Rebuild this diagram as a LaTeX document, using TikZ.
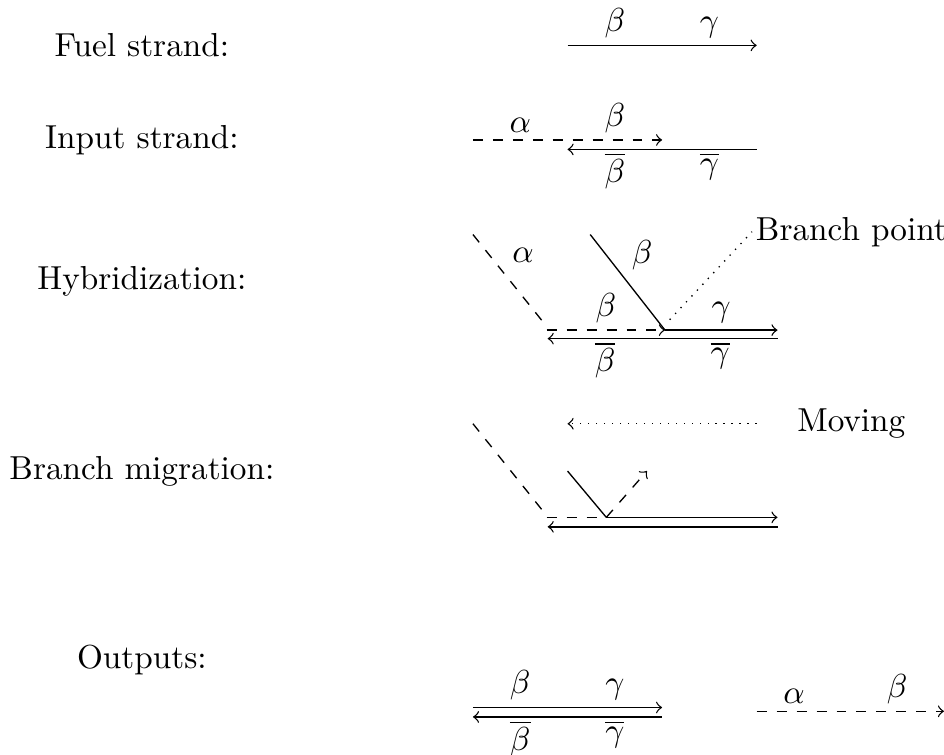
\documentclass[tikz,border=0pt]{standalone}
\usetikzlibrary{positioning}
\tikzset{
  rowname/.style={align=center},
  dom/.style={inner sep=2pt},
  under/.style={below, inner sep=0.8pt},
  fuelstr/.style={thin},
  inputstr/.style={thin, dashed},
  pointer/.style={dotted},
  tag/.style={anchor=west, inner sep=1pt}
}
\begin{document}
\begin{tikzpicture}
\useasboundingbox (0,0) rectangle (9.98,7.98);

% row names
\node[rowname] (fuel)   at (1.5,7.5) {Fuel strand:};
\node[rowname] (input)  at (1.5,6.5) {Input strand:};
\node[rowname] (hybrid) at (1.5,5)   {Hybridization:};
\node[rowname] (migr)   at (1.5,3)   {Branch migration:};
\node[rowname] (outs)   at (1.5,1)   {Outputs:};

% Fuel strand
\coordinate (f0) at (6,7.5);
\coordinate (f1) at (8,7.5);
\draw[fuelstr,->] (f0) -- (f1)
      node[dom,pos=.25,above] (fb) {$\beta$}
      node[dom,pos=.75,above] (fg) {$\gamma$};

% Input strand over the complement
\coordinate (i0) at (5,6.5);
\coordinate (i1) at (7,6.5);
\coordinate (c0) at (6,6.4);
\coordinate (c1) at (8,6.4);
\draw[inputstr,->] (i0) -- (i1)
      node[dom,pos=.25,above] (ia) {$\alpha$}
      node[dom,pos=.75,above] (ib) {$\beta$};
\draw[fuelstr,<-] (c0) -- (c1)
      node[under,pos=.25] (cb) {$\overline{\beta}$}
      node[under,pos=.75] (cg) {$\overline{\gamma}$};

% Hybridization
\coordinate (h0) at (5,5.5);
\coordinate (h1) at (5.73,4.59);
\coordinate (h2) at (5.78,4.49);
\coordinate (bp) at (7.03,4.49);
\coordinate (h3) at (6.24,5.5);
\coordinate (h4) at (8.22,4.49);
\coordinate (h5) at (5.79,4.4);
\coordinate (h6) at (8.22,4.4);
\draw[inputstr] (h0) -- (h1);
\node[dom] (ha) at (5.53,5.28) {$\alpha$};
\draw[inputstr,->] (h2) -- (bp)
      node[dom,midway,above] (hb) {$\beta$};
\draw[fuelstr] (h3) -- (bp);
\node[dom] (hb2) at (6.79,5.28) {$\beta$};
\draw[fuelstr,->] (bp) -- (h4)
      node[dom,midway,above] (hg) {$\gamma$};
\draw[fuelstr,<-] (h5) -- (h6)
      node[under,pos=.25] (hcb) {$\overline{\beta}$}
      node[under,pos=.75] (hcg) {$\overline{\gamma}$};

% Branch point
\coordinate (bpc) at (7.08,4.6);
\node[tag] (bpt) at (7.95,5.53) {Branch point};
\draw[pointer] (bpc) -- (bpt.west);

% Branch migration
\coordinate (mv0) at (8,3.5);
\coordinate (mv1) at (6,3.5);
\draw[pointer,->] (mv0) -- (mv1);
\node (moving) at (9,3.5) {Moving};
\coordinate (m0) at (5,3.5);
\coordinate (m1) at (5.73,2.59);
\coordinate (m2) at (5.78,2.51);
\coordinate (jn) at (6.41,2.51);
\coordinate (m3) at (6,3);
\coordinate (m4) at (6.84,3);
\coordinate (m5) at (8.22,2.51);
\coordinate (m6) at (5.79,2.41);
\coordinate (m7) at (8.22,2.41);
\draw[inputstr] (m0) -- (m1);
\draw[inputstr] (m2) -- (jn);
\draw[fuelstr] (m3) -- (jn);
\draw[inputstr,->] (jn) -- (m4);
\draw[fuelstr,->] (jn) -- (m5);
\draw[fuelstr,<-] (m6) -- (m7);

% Outputs
\coordinate (o0) at (5,0.5);
\coordinate (o1) at (7,0.5);
\coordinate (o2) at (5,0.4);
\coordinate (o3) at (7,0.4);
\draw[fuelstr,->] (o0) -- (o1)
      node[dom,pos=.25,above] (ob) {$\beta$}
      node[dom,pos=.75,above] (og) {$\gamma$};
\draw[fuelstr,<-] (o2) -- (o3)
      node[under,pos=.25] (ocb) {$\overline{\beta}$}
      node[under,pos=.75] (ocg) {$\overline{\gamma}$};
\coordinate (o4) at (8,0.46);
\coordinate (o5) at (9.98,0.46);
\draw[inputstr,->] (o4) -- (o5)
      node[dom,pos=.2,above] (oa) {$\alpha$}
      node[dom,pos=.75,above] (ob2) {$\beta$};

\end{tikzpicture}
\end{document}
